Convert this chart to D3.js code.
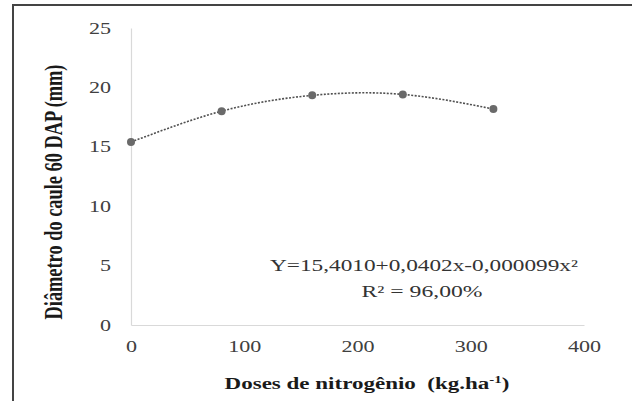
<!DOCTYPE html>
<html><head><meta charset="utf-8">
<script src="https://cdn.jsdelivr.net/npm/d3@7"></script>
<style>body{margin:0;background:#fff}</style>
</head><body>
<svg id="c" width="632" height="401"></svg>
<script>
const doses = [0, 80, 160, 240, 320];
const diametro = [15.40, 18.00, 19.33, 19.41, 18.18];
const xTicks = [0, 100, 200, 300, 400];
const yTicks = [0, 5, 10, 15, 20, 25];
const equation = "Y=15,4010+0,0402x-0,000099x²";
const r2 = "R² = 96,00%";

const FONT = '"Liberation Serif","Times New Roman",serif';
const svg = d3.select("#c");
const SX = 1.38; // horizontal stretch of the source image
const x = d3.scaleLinear().domain([0, 400]).range([131, 584]);
const y = d3.scaleLinear().domain([0, 25]).range([325, 28]);

// frame
svg.append("path").attr("d", "M13,401 L13,5 L632,5").attr("fill", "none")
  .attr("stroke", "#444").attr("stroke-width", 2);

// axes
const xa = svg.append("g").attr("transform", `translate(0,${y(0)})`)
  .call(d3.axisBottom(x).tickValues(xTicks).tickSize(0).tickPadding(16));
const ya = svg.append("g").attr("transform", `translate(${x(0)},0)`)
  .call(d3.axisLeft(y).tickValues(yTicks).tickSize(0).tickPadding(20));
[xa, ya].forEach(g => {
  g.attr("font-family", null);
  g.select(".domain").attr("stroke", "#d9d9d9").attr("stroke-width", 1.2);
  g.selectAll("text").style("font-family", FONT).attr("font-size", 16).attr("fill", "#404040")
    .attr("transform", `scale(${SX},1)`);
});
ya.selectAll("text").attr("x", -20 / SX);

// curve
const line = d3.line().x((d, i) => x(doses[i])).y(d => y(d)).curve(d3.curveNatural);
svg.append("path").datum(diametro).attr("d", line).attr("fill", "none")
  .attr("stroke", "#505050").attr("stroke-width", 1.6).attr("stroke-dasharray", "2,1.5");
svg.selectAll("circle").data(diametro).join("circle")
  .attr("cx", (d, i) => x(doses[i])).attr("cy", d => y(d)).attr("r", 4).attr("fill", "#6a6a6a");

// stretched text helper: fit to target width
function label(cx, cy, txt, size, weight, width, rot) {
  const g = svg.append("g");
  const t = g.append("text").attr("text-anchor", "middle").attr("font-size", size)
    .style("font-family", FONT).style("white-space", "pre")
    .attr("font-weight", weight).attr("fill", weight === "bold" ? "#1a1a1a" : "#333");
  if (typeof txt === "function") txt(t); else t.text(txt);
  const w = t.node().getComputedTextLength();
  const s = width / w;
  if (rot) g.attr("transform", `translate(${cx},${cy}) rotate(-90) scale(1,${SX}) scale(${s},1)`);
  else g.attr("transform", `translate(${cx},${cy}) scale(${s},1)`);
  return t;
}

label(424, 271, equation, 16, "normal", 308);
label(422, 297, r2, 16, "normal", 121);

label(367, 389, t => {
  t.append("tspan").text("Doses de nitrogênio  (kg.ha");
  t.append("tspan").attr("font-size", 11).attr("dy", -6).text("-1");
  t.append("tspan").attr("dy", 6).text(")");
}, 17, "bold", 285);

label(62, 192, "Diâmetro do caule 60 DAP (mm)", 17.5, "bold", 255, true);
</script>
</body></html>
